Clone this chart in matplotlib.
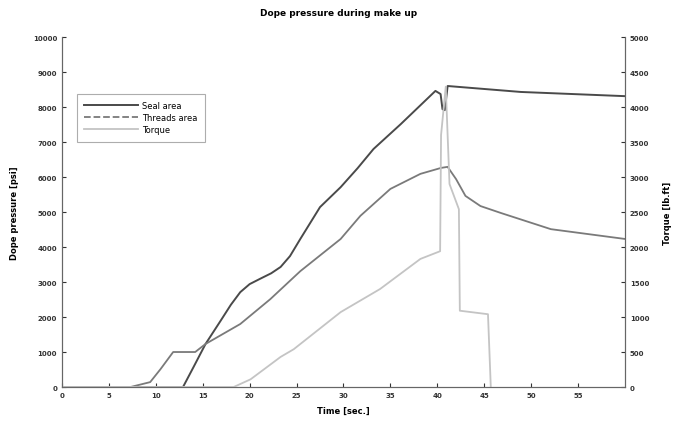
import matplotlib.pyplot as plt
from matplotlib.lines import Line2D

# values
seal_t = [0, 12.9, 14.0, 15.3, 16.9, 18.0, 19.0, 20.0, 21.1, 22.3, 23.3, 24.3,
          25.4, 27.5, 29.7, 31.5, 33.2, 36.1, 39.8, 40.35, 40.55, 40.8, 41.1,
          48.9, 60.0]
seal_p = [0, 0, 560, 1230, 1890, 2350, 2710, 2940, 3090, 3250, 3430, 3740,
          4230, 5140, 5710, 6250, 6800, 7510, 8460, 8370, 7940, 7910, 8600,
          8430, 8310]

thread_t = [0, 7.3, 9.4, 10.5, 11.85, 14.2, 15.3, 19.0, 22.2, 25.4, 29.7, 31.8,
            35.0, 38.2, 40.4, 41.1, 42.0, 43.0, 44.6, 46.8, 52.1, 60.0]
thread_p = [0, 0, 140, 510, 1000, 1000, 1230, 1800, 2510, 3310, 4230, 4890,
            5660, 6090, 6260, 6290, 5940, 5460, 5170, 4970, 4510, 4230]

torque_t = [0, 18.3, 20.1, 23.3, 24.7, 29.7, 33.9, 38.2, 40.3, 40.4, 40.9,
            41.3, 42.3, 42.4, 45.4, 45.7]
torque_v = [0, 0, 110, 430, 540, 1070, 1400, 1830, 1940, 3600, 4290,
            2900, 2540, 1090, 1040, 0]

fig = plt.figure(figsize=(6.78, 4.27), dpi=100)
ax = fig.add_axes([0.0914, 0.0913, 0.8304, 0.8197])
ax2 = ax.twinx()

ax.plot(seal_t, seal_p, color='#4a4a4a', lw=1.4)
ax.plot(thread_t, thread_p, color='#7a7a7a', lw=1.3)
ax2.plot(torque_t, torque_v, color='#c4c4c4', lw=1.3)

ax.set_xlim(0, 60)
ax.set_ylim(0, 10000)
ax2.set_ylim(0, 5000)
ax.set_xticks(range(0, 56, 5))
ax.set_yticks(range(0, 10001, 1000))
ax2.set_yticks(range(0, 5001, 500))

for a in (ax, ax2):
    a.spines['top'].set_visible(False)
    for s in a.spines.values():
        s.set_color('#666666')
    a.tick_params(direction='in', length=3, labelsize=5, colors='#333333', width=0.8)
for lbl in ax.get_xticklabels() + ax.get_yticklabels() + ax2.get_yticklabels():
    lbl.set_fontweight('bold')

ax.set_xlabel('Time [sec.]', fontsize=6, fontweight='bold', labelpad=6)
ax.set_ylabel('Dope pressure [psi]', fontsize=6, fontweight='bold', labelpad=10)
ax2.set_ylabel('Torque [lb.ft]', fontsize=6, fontweight='bold', labelpad=10)
fig.suptitle('Dope pressure during make up', fontsize=6.5, fontweight='bold', y=0.978)

handles = [Line2D([], [], color='#4a4a4a', lw=1.4),
           Line2D([], [], color='#7a7a7a', lw=1.3, ls='--'),
           Line2D([], [], color='#c4c4c4', lw=1.3)]
leg = ax.legend(handles, ['Seal area', 'Threads area', 'Torque'], loc='upper left',
                bbox_to_anchor=(0.026, 0.838), fontsize=6, fancybox=False,
                handlelength=6.5, borderpad=0.9, labelspacing=0.35,
                borderaxespad=0, handletextpad=0.5)
leg.get_frame().set_edgecolor('#999999')
leg.get_frame().set_linewidth(0.8)

fig.savefig('out.png', dpi=100)
